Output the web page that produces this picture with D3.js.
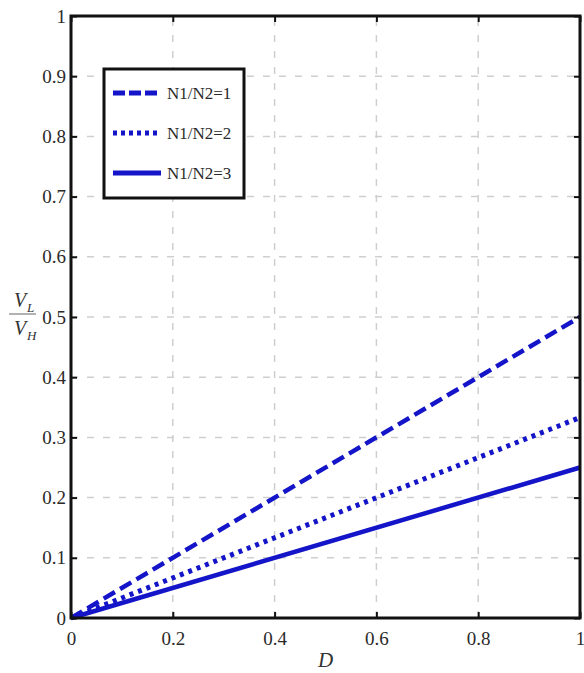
<!DOCTYPE html>
<html>
<head>
<meta charset="utf-8">
<script src="https://cdn.jsdelivr.net/npm/d3@7"></script>
<style>
  body { margin: 0; background: #fff; }
  svg text { font-family: "Liberation Serif", "Times New Roman", serif; }
</style>
</head>
<body>
<div id="chart"></div>
<script>
// duty cycle D and output ratio VL/VH for each turns ratio
const dutyCycle = [0, 1];
const ratio1 = [0, 0.5];
const ratio2 = [0, 0.333];
const ratio3 = [0, 0.25];
const seriesNames = ["N1/N2=1", "N1/N2=2", "N1/N2=3"];
const xTicks = [0, 0.2, 0.4, 0.6, 0.8, 1];
const yTicks = [0, 0.1, 0.2, 0.3, 0.4, 0.5, 0.6, 0.7, 0.8, 0.9, 1];

const width = 584, height = 673;
const margin = { left: 71, right: 4, top: 16, bottom: 55 };
const serif = "'Liberation Serif', 'Times New Roman', serif";
const blue = "#1414c8";

const svg = d3.select("#chart").append("svg")
    .attr("width", width)
    .attr("height", height);

const x = d3.scaleLinear().domain([0, 1]).range([margin.left, width - margin.right]);
const y = d3.scaleLinear().domain([0, 1]).range([height - margin.bottom, margin.top]);

// grid
svg.append("g").selectAll("line")
    .data(xTicks.slice(1, -1))
    .enter().append("line")
    .attr("x1", d => x(d)).attr("x2", d => x(d))
    .attr("y1", y(0)).attr("y2", y(1))
    .attr("stroke", "#cfcfcf")
    .attr("stroke-width", 1.5)
    .attr("stroke-dasharray", "7,9");

svg.append("g").selectAll("line")
    .data(yTicks.slice(1, -1))
    .enter().append("line")
    .attr("x1", x(0)).attr("x2", x(1))
    .attr("y1", d => y(d)).attr("y2", d => y(d))
    .attr("stroke", "#cfcfcf")
    .attr("stroke-width", 1.5)
    .attr("stroke-dasharray", "7,9");

// data lines
const line = d3.line()
    .x((d, i) => x(dutyCycle[i]))
    .y(d => y(d));

const series = [
    { values: ratio1, dash: "13,6", width: 4.5, legendDash: "12,4" },
    { values: ratio2, dash: "4,5", width: 5, legendDash: "4,4" },
    { values: ratio3, dash: null, width: 4.5, legendDash: null }
];

svg.append("g").selectAll("path")
    .data(series)
    .enter().append("path")
    .attr("d", d => line(d.values))
    .attr("fill", "none")
    .attr("stroke", blue)
    .attr("stroke-width", d => d.width)
    .attr("stroke-dasharray", d => d.dash);

// axes (ticks pointing inside)
const fmt = d => d === 0 || d === 1 ? d3.format("d")(d) : d3.format(".1f")(d);
const xAxis = d3.axisBottom(x).tickValues(xTicks).tickSize(-6).tickPadding(10).tickFormat(fmt);
const yAxis = d3.axisLeft(y).tickValues(yTicks).tickSize(-6).tickPadding(5).tickFormat(fmt);

const gx = svg.append("g").attr("transform", `translate(0,${y(0)})`).call(xAxis);
const gy = svg.append("g").attr("transform", `translate(${x(0)},0)`).call(yAxis);
[gx, gy].forEach(g => {
    g.attr("font-family", serif);
    g.select(".domain").remove();
    g.selectAll(".tick line").attr("stroke", "#111").attr("stroke-width", 2);
    g.selectAll(".tick text").attr("font-size", 19).attr("fill", "#2a2a2a");
});
gx.selectAll(".tick text").attr("dy", "0.9em");

// ticks on the top and right sides as well
svg.append("g").attr("transform", `translate(0,${y(1)})`)
    .call(d3.axisTop(x).tickValues(xTicks).tickSize(-6).tickFormat(""))
    .call(g => g.select(".domain").remove())
    .selectAll(".tick line").attr("stroke", "#111").attr("stroke-width", 2);
svg.append("g").attr("transform", `translate(${x(1)},0)`)
    .call(d3.axisRight(y).tickValues(yTicks).tickSize(-6).tickFormat(""))
    .call(g => g.select(".domain").remove())
    .selectAll(".tick line").attr("stroke", "#111").attr("stroke-width", 2);

// frame
svg.append("rect")
    .attr("x", x(0)).attr("y", y(1))
    .attr("width", x(1) - x(0)).attr("height", y(0) - y(1))
    .attr("fill", "none")
    .attr("stroke", "#111")
    .attr("stroke-width", 3);

// axis labels
svg.append("text")
    .attr("x", (x(0) + x(1)) / 2)
    .attr("y", 667)
    .attr("text-anchor", "middle")
    .attr("font-size", 21)
    .attr("font-style", "italic")
    .attr("fill", "#333")
    .text("D");

const ylab = svg.append("g").attr("transform", "translate(22,313)");
ylab.append("text")
    .attr("x", -2).attr("y", -6)
    .attr("font-size", 20).attr("font-style", "italic").attr("fill", "#333")
    .attr("text-anchor", "middle")
    .text("V");
ylab.append("text")
    .attr("x", 5).attr("y", -1)
    .attr("font-size", 13).attr("font-style", "italic").attr("fill", "#333")
    .text("L");
ylab.append("line")
    .attr("x1", -13).attr("x2", 14).attr("y1", 1).attr("y2", 1)
    .attr("stroke", "#999").attr("stroke-width", 1.5);
ylab.append("text")
    .attr("x", -2).attr("y", 22)
    .attr("font-size", 20).attr("font-style", "italic").attr("fill", "#333")
    .attr("text-anchor", "middle")
    .text("V");
ylab.append("text")
    .attr("x", 5).attr("y", 27)
    .attr("font-size", 13).attr("font-style", "italic").attr("fill", "#333")
    .text("H");

// legend
const legend = svg.append("g").attr("transform", "translate(104,69)");
legend.append("rect")
    .attr("width", 140).attr("height", 129)
    .attr("fill", "#fff")
    .attr("stroke", "#111")
    .attr("stroke-width", 3);

const items = legend.selectAll("g.item")
    .data(series)
    .enter().append("g")
    .attr("class", "item")
    .attr("transform", (d, i) => `translate(0,${24 + i * 40})`);

items.append("line")
    .attr("x1", 9).attr("x2", 57)
    .attr("stroke", blue)
    .attr("stroke-width", 5)
    .attr("stroke-dasharray", d => d.legendDash);

items.append("text")
    .attr("x", 63).attr("y", 6)
    .attr("font-size", 17)
    .attr("fill", "#2a2a2a")
    .text((d, i) => seriesNames[i]);
</script>
</body>
</html>
